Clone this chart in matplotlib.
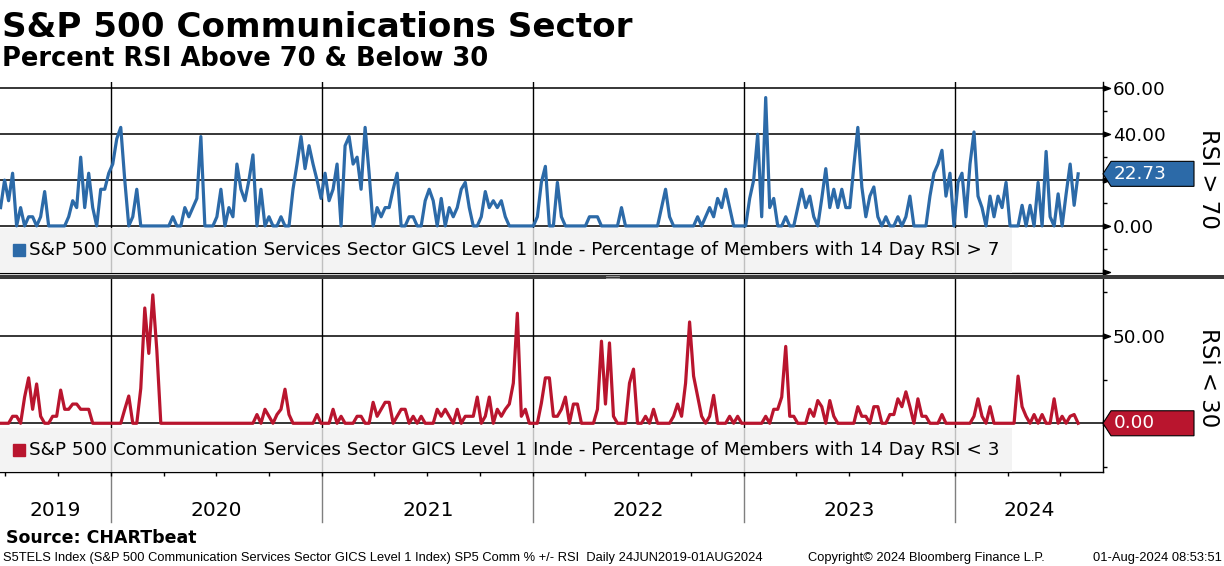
import numpy as np
import pandas as pd
import matplotlib
matplotlib.use('Agg')
import matplotlib.pyplot as plt
import matplotlib.dates as mdates
import matplotlib.transforms as mtransforms
from matplotlib.patches import Polygon, Rectangle
from matplotlib.ticker import FixedLocator, FormatStrFormatter, NullLocator

# weekly-ish samples, 24 Jun 2019 .. 01 Aug 2024
start_date = '2019-06-24'
end_date = '2024-08-01'

rsi_above_70 = [
    8, 20, 11, 23, 0, 8, 0, 4, 4, 0,
    4, 15, 0, 0, 0, 0, 0, 4, 11, 8,
    30, 8, 23, 8, 0, 16, 16, 23, 27, 38,
    43, 20, 0, 4, 16, 0, 0, 0, 0, 0,
    0, 0, 0, 4, 0, 0, 8, 4, 8, 12,
    39, 0, 0, 0, 4, 16, 0, 8, 4, 27,
    16, 11, 20, 31, 0, 16, 0, 4, 0, 0,
    4, 0, 0, 16, 27, 39, 25, 35, 27, 20,
    12, 23, 11, 16, 27, 0, 35, 39, 27, 30,
    16, 43, 23, 0, 8, 4, 8, 8, 16, 23,
    0, 0, 4, 4, 0, 0, 11, 16, 11, 0,
    12, 0, 8, 4, 8, 16, 19, 8, 0, 0,
    4, 15, 8, 11, 8, 11, 4, 0, 0, 0,
    0, 0, 0, 0, 4, 19, 26, 0, 0, 19,
    4, 0, 0, 0, 0, 0, 0, 4, 4, 4,
    0, 0, 0, 0, 0, 8, 0, 0, 0, 0,
    0, 0, 0, 0, 0, 8, 16, 4, 0, 0,
    0, 0, 0, 0, 4, 0, 4, 8, 4, 12,
    8, 16, 8, 0, 0, 0, 0, 12, 20, 40,
    4, 56, 8, 12, 0, 0, 4, 0, 0, 8,
    16, 8, 13, 4, 0, 12, 25, 8, 16, 8,
    16, 8, 8, 26, 43, 17, 4, 13, 17, 4,
    0, 4, 0, 0, 4, 0, 4, 13, 0, 0,
    0, 0, 13, 23, 27, 33, 13, 23, 0, 19,
    23, 4, 27, 41, 13, 8, 0, 13, 4, 13,
    8, 19, 0, 0, 0, 9, 0, 9, 0, 19,
    0, 32.5, 4, 0, 14, 0, 14, 27, 9, 22.73,
]

rsi_below_30 = [
    0, 0, 0, 4, 4, 0, 15, 26, 8, 22.5,
    4, 0, 0, 4, 4, 19, 8, 8, 11, 11,
    8, 8, 8, 0, 0, 0, 0, 0, 0, 0,
    0, 8, 15.6, 0, 0, 20, 66, 40, 73.5, 42,
    0, 0, 0, 0, 0, 0, 0, 0, 0, 0,
    0, 0, 0, 0, 0, 0, 0, 0, 0, 0,
    0, 0, 0, 0, 5, 0, 8, 4, 0, 5,
    8, 19.5, 5, 0, 0, 0, 0, 0, 0, 5,
    0, 0, 0, 8, 0, 4, 0, 0, 0, 4,
    4, 0, 0, 12, 4, 8, 12, 12, 0, 4,
    8, 8, 0, 4, 0, 4, 0, 0, 0, 8,
    4, 8, 4, 0, 8, 0, 4, 4, 4, 15,
    0, 4, 15, 0, 8, 4, 8, 11, 23, 63,
    4, 8, 0, 0, 0, 11.5, 26, 26, 4, 4,
    8, 15, 0, 11, 11, 0, 0, 0, 0, 8,
    47, 11, 46, 4, 0, 0, 0, 23, 31, 0,
    0, 4, 0, 8, 0, 0, 0, 0, 4, 11,
    4, 23, 58, 27, 15.6, 4, 0, 4, 16, 0,
    0, 0, 4, 0, 4, 0, 0, 0, 0, 0,
    0, 4, 0, 8, 8, 15, 44, 4, 4, 0,
    0, 0, 8, 4, 13, 9.5, 0, 13, 4, 0,
    0, 0, 0, 0, 9.5, 4, 4, 0, 9.5, 9.5,
    0, 0, 5, 5, 14, 9.5, 18, 9.5, 0, 14,
    4, 4, 0, 0, 0, 5, 0, 0, 0, 0,
    0, 0, 0, 4, 14, 4, 0, 9.5, 0, 0,
    0, 0, 0, 0, 27, 9.5, 4, 0, 5, 0,
    5, 0, 0, 14, 0, 4, 0, 4, 5, 0,
]

years = [2019, 2020, 2021, 2022, 2023, 2024]
legend_above = ("S&P 500 Communication Services Sector GICS Level 1 Inde - "
                "Percentage of Members with 14 Day RSI > 7")
legend_below = ("S&P 500 Communication Services Sector GICS Level 1 Inde - "
                "Percentage of Members with 14 Day RSI < 3")
footer_left = ("S5TELS Index (S&P 500 Communication Services Sector GICS Level 1 Index) "
               "SP5 Comm % +/- RSI  Daily 24JUN2019-01AUG2024")
footer_mid = "Copyright\u00a9 2024 Bloomberg Finance L.P."
footer_right = "01-Aug-2024 08:53:51"

BLUE = '#2c6aa8'
RED = '#b9152e'

W, H = 1224, 566
dates = pd.date_range(start_date, end_date, periods=len(rsi_above_70))
x_range = (pd.Timestamp('2019-06-23'), pd.Timestamp('2024-09-13'))


def fx(px):
    return px / W


def fy(py):
    return 1 - py / H


fig = plt.figure(figsize=(W / 100, H / 100), dpi=100)
ax1 = fig.add_axes([0, fy(272.7), fx(1103), (272.7 - 82) / H])
ax2 = fig.add_axes([0, fy(472), fx(1103), (472 - 279) / H])

arrow = [(0, -0.36), (1, 0), (0, 0.36), (0, -0.36)]


def draw_panel(ax, values, color, ylim, grid, arrows, labels, minor,
               legend_text, box_label, side_label, side_y):
    ax.plot(dates, values, color=color, lw=2.3, zorder=3,
            solid_joinstyle='round')
    ax.set_xlim(x_range)
    ax.set_ylim(ylim)

    for g in grid:
        ax.axhline(g, color='black', lw=1.1, zorder=2)
    for y in years[1:]:
        ax.axvline(pd.Timestamp(f'{y}-01-01'), color='black', lw=1, zorder=2)

    for side in ['left', 'top']:
        ax.spines[side].set_visible(False)
    for side in ['right', 'bottom']:
        ax.spines[side].set_color('black')
        ax.spines[side].set_linewidth(1)

    # right axis (the label under the value tag is hidden, as in the original)
    ax.yaxis.tick_right()
    ax.set_yticks(labels)
    ax.yaxis.set_major_formatter(FormatStrFormatter('%.2f'))
    ax.yaxis.set_minor_locator(FixedLocator(minor))
    ax.tick_params(axis='y', which='major', length=0, pad=7, labelsize=13.2)
    ax.tick_params(axis='y', which='minor', length=3, width=1,
                   direction='out', right=True, left=False, color='black')
    ax.plot([1] * len(arrows), arrows, transform=ax.get_yaxis_transform(),
            marker=arrow, ms=10, ls='none', color='black', clip_on=False,
            zorder=6)

    ax.xaxis.set_major_locator(NullLocator())
    ax.xaxis.set_minor_locator(NullLocator())

    # legend strip
    bbox = ax.get_position()
    ax_h = bbox.height * H
    strip_h = 44.5 / ax_h
    ax.add_patch(Rectangle((0, 0), 1012 / 1103, strip_h, transform=ax.transAxes,
                           fc='#f0f0f0', ec='none', alpha=0.8, zorder=4))
    yc = strip_h / 2
    ax.plot([19 / 1103], [yc], marker='s', ms=8.5, color=color,
            transform=ax.transAxes, clip_on=False, zorder=5)
    ax.text(29 / 1103, yc, legend_text, transform=ax.transAxes,
            va='center', ha='left', fontsize=13.2, zorder=5)

    # last value tag
    tx, ty = ax.get_yaxis_transform().transform((1.0, values[-1]))
    tag = mtransforms.Affine2D().translate(tx, ty)
    ax.add_patch(Polygon([(0, 0), (8, 12.5), (91, 12.5), (91, -12.5), (8, -12.5)],
                         closed=True, fc=color, ec='black', lw=0.8,
                         transform=tag, clip_on=False, zorder=7))
    ax.text(11, 0, box_label, transform=tag, color='white', fontsize=13.2,
            va='center', ha='left', zorder=8, clip_on=False)

    fig.text(fx(1209), fy(side_y), side_label, rotation=-90, ha='center',
             va='center', fontsize=16.5)


draw_panel(ax1, rsi_above_70, BLUE, (-20.4, 62.8), [0, 20, 40, 60],
           [-20, 0, 20, 40, 60], [0, 40, 60], [-10, 10, 30, 50],
           legend_above, f'{rsi_above_70[-1]:.2f}', 'RSI > 70', 179)
draw_panel(ax2, rsi_below_30, RED, (-27.9, 82.6), [0, 50],
           [0, 50], [50], [-25, 25, 75],
           legend_below, f'{rsi_below_30[-1]:.2f}', 'RSi < 30', 378)

# date axis under the lower panel
ax2.xaxis.set_minor_locator(mdates.MonthLocator(bymonth=[1, 4, 7, 10]))
ax2.tick_params(axis='x', which='minor', length=3, width=1, direction='out',
                color='black', labelbottom=False)
xt = ax2.get_xaxis_transform()
bounds = [x_range[0]] + [pd.Timestamp(f'{y}-01-01') for y in years[1:]] + [x_range[1]]
for b in bounds[1:-1]:
    ax2.plot([b, b], [0, -0.26], transform=xt, color='#7f7f7f', lw=1,
             clip_on=False, zorder=1)
for i, y in enumerate(years):
    mid = bounds[i] + (bounds[i + 1] - bounds[i]) / 2
    ax2.text(mid, -0.202, str(y), transform=xt, ha='center', va='center',
             fontsize=14.5)

# separator between panels
fig.add_artist(Rectangle((0, fy(279)), 1, 4 / H, transform=fig.transFigure,
                         fc='#3a3a3a', ec='none'))
for yy in (276.3, 277.7):
    fig.add_artist(plt.Line2D([fx(606), fx(619)], [fy(yy), fy(yy)],
                              color='#a0a0a0', lw=0.6))

# titles and footer
fig.text(fx(2), fy(37), 'S&P 500 Communications Sector', fontsize=24.6,
         fontweight='bold', va='baseline')
fig.text(fx(2), fy(66), 'Percent RSI Above 70 & Below 30', fontsize=18.5,
         fontweight='bold', va='baseline')
fig.text(fx(6), fy(542.7), 'Source: CHARTbeat', fontsize=12.5,
         fontweight='bold', va='baseline')
fig.text(fx(3), fy(561), footer_left, fontsize=9.3, va='baseline',
         family='Liberation Sans')
fig.text(fx(808), fy(561), footer_mid, fontsize=9.3, va='baseline',
         family='Liberation Sans')
fig.text(fx(1222), fy(561), footer_right, fontsize=9.3, va='baseline',
         ha='right', family='Liberation Sans')

fig.savefig('out.png', dpi=100)
